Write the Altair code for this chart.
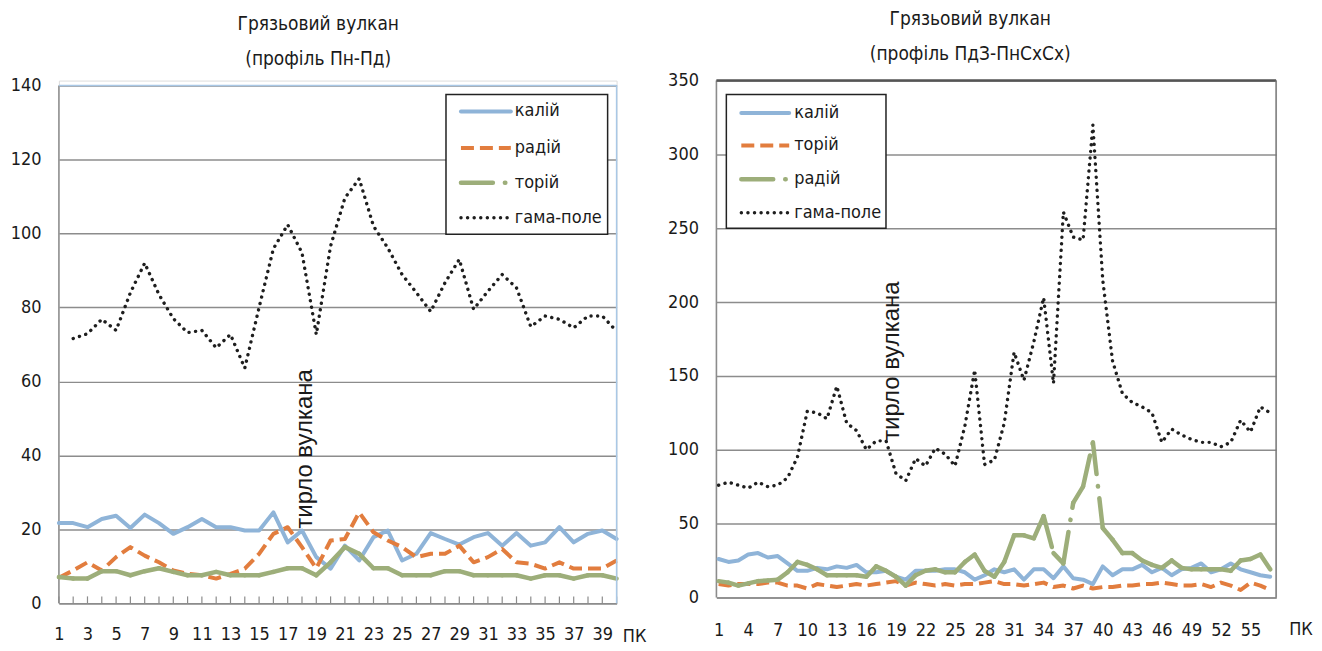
import altair as alt
import pandas as pd

# ---------------- data ----------------
pk_left = list(range(1, 41))
left_kaliy = [21.7, 21.7, 20.6, 22.8, 23.7, 20.4, 24.0, 21.7, 18.8, 20.6,
              22.8, 20.6, 20.6, 19.7, 19.7, 24.6, 16.5, 19.7, 12.5, 9.4,
              15.6, 11.6, 17.9, 19.7, 11.6, 13.4, 19.0, 17.4, 15.9, 17.9,
              19.0, 15.6, 19.0, 15.6, 16.5, 20.6, 16.5, 18.8, 19.7, 17.4]
left_radiy = [6.9, 8.9, 11.1, 8.9, 12.5, 15.2, 12.9, 11.1, 8.9, 8.0,
              7.6, 6.7, 8.0, 9.4, 13.4, 18.8, 20.6, 15.2, 9.5, 17.0,
              17.4, 24.6, 19.2, 17.0, 15.2, 12.5, 13.4, 13.4, 15.6, 11.1,
              12.5, 14.7, 11.1, 10.7, 9.4, 11.1, 9.4, 9.4, 9.4, 11.6]
left_toriy = [7.1, 6.7, 6.7, 8.7, 8.7, 7.6, 8.7, 9.5, 8.5, 7.6,
              7.6, 8.5, 7.6, 7.6, 7.6, 8.5, 9.5, 9.5, 7.6, 11.1,
              15.2, 13.4, 9.5, 9.5, 7.6, 7.6, 7.6, 8.7, 8.7, 7.6,
              7.6, 7.6, 7.6, 6.7, 7.6, 7.6, 6.7, 7.6, 7.6, 6.7]
left_gama = [None, 71.6, 72.9, 76.8, 73.8, 84.0, 92.0, 83.5, 77.0, 73.2,
             73.8, 69.1, 72.7, 63.6, 80.0, 95.9, 102.4, 94.8, 72.7, 96.6,
             109.6, 114.8, 102.0, 96.1, 88.9, 84.0, 78.9, 86.7, 93.0, 79.5,
             84.4, 88.9, 85.3, 74.8, 77.7, 76.8, 74.5, 77.7, 77.7, 73.6]

pk_right = list(range(1, 58))
right_kaliy = [26, 24, 25, 29, 30, 27, 28, 23, 18, 18,
               20, 19, 21, 20, 22, 17, 17, 18, 14, 12,
               18, 18, 18, 19, 19, 17, 12, 15, 19, 17,
               19, 12, 19, 19, 13, 21, 13, 12, 9, 21,
               15, 19, 19, 22, 17, 20, 15, 19, 20, 23,
               17, 19, 23, 19, 17, 15, 14]
right_toriy = [9, 8, 9, 9, 9, 10, 10, 8, 8, 6,
               9, 8, 7, 8, 9, 8, 9, 10, 11, 8,
               10, 9, 8, 9, 8, 9, 9, 10, 11, 9,
               9, 8, 9, 10, 7, 8, 6, 8, 6, 7,
               7, 8, 8, 9, 9, 10, 9, 8, 8, 9,
               7, 10, 8, 5, 10, 8, 5]
right_radiy = [11, 10, 8, 9.5, 11, 11.5, 12, 17, 24, 22,
               19, 15, 15, 15, 15, 14, 21, 18, 14, 8,
               15, 18, 19, 17, 17, 24, 29, 18, 14, 24,
               42, 42, 40, 55, 30, 23, 64, 75, 105, 47,
               39, 30, 30, 25, 22, 20, 25, 20, 19, 19,
               19, 19, 18, 25, 26, 29, 19]
right_gama = [76, 78, 76, 74, 78, 75, 76, 81, 95, 126,
              125, 121, 143, 118, 113, 100, 106, 106, 84, 79,
              94, 89, 101, 97, 89, 116, 154, 90, 93, 118,
              166, 147, 173, 203, 145, 261, 244, 242, 320, 215,
              160, 138, 132, 129, 125, 105, 114, 110, 107, 105,
              105, 102, 105, 120, 112, 129, 125]

left_x_labels = list(range(1, 40, 2))
right_x_labels = list(range(1, 56, 3))
left_y_labels = list(range(0, 141, 20))
right_y_labels = list(range(0, 351, 50))

title_main = "Грязьовий вулкан"
title_left = "(профіль Пн-Пд)"
title_right = "(профіль ПдЗ-ПнСхСх)"
vent_label = "тирло вулкана"
axis_unit = "ПК"

left_names = ["калій", "радій", "торій", "гама-поле"]
right_names = ["калій", "торій", "радій", "гама-поле"]

# ---------------- style ----------------
FONT = "Liberation Sans Narrow, DejaVu Sans Condensed, Arial Narrow, sans-serif"
FONT_ROT = "Liberation Sans, Arial, sans-serif"
BLUE = "#8fb4d8"
ORANGE = "#e27d3e"
GREEN = "#9dae7a"
DARK = "#1e1e1e"
GRID = "#8c8c8c"
TXT = "#1a1a1a"

STYLES = {
    "blue": dict(color=BLUE, strokeWidth=4, strokeCap="round", strokeJoin="round"),
    "orange": dict(color=ORANGE, strokeWidth=4, strokeDash=[13, 6], strokeCap="butt", strokeJoin="round"),
    "green": dict(color=GREEN, strokeWidth=4.5, strokeDash=[32, 12, 0.5, 12], strokeCap="round", strokeJoin="round"),
    "dots": dict(color=DARK, strokeWidth=3.4, strokeDash=[0.1, 6.5], strokeCap="round", strokeJoin="round"),
}


def series_df(xs, vals):
    df = pd.DataFrame({"x": xs, "y": vals})
    return df.dropna()


def segment_df(xs, vals):
    rows = []
    for k in range(len(xs) - 1):
        if vals[k] is None or vals[k + 1] is None:
            continue
        rows.append({"x": xs[k], "y": vals[k], "seg": k})
        rows.append({"x": xs[k + 1], "y": vals[k + 1], "seg": k})
    return pd.DataFrame(rows)


def panel(xs, series, names, styles, W, H, top_pad, xdom, ydom, xlabels, ylabels,
          title_lines, title_offset, title_dx, inner_ticks, border,
          legend_box, legend_rows, legend_line, legend_text_x,
          vent_xy, unit_xy, x_label_pad):
    ymax = ydom[1] * H / (H - top_pad)
    x_axis = alt.Axis(values=xlabels, grid=False, ticks=False, domainColor=GRID,
                      domainWidth=1.5, labelFont=FONT, labelFontSize=18,
                      labelColor=TXT, labelPadding=x_label_pad, title=None,
                      labelFlush=False, labelOverlap=False)
    y_axis = alt.Axis(values=ylabels, grid=True, gridColor=GRID, gridWidth=1.5,
                      ticks=False, domain=False,
                      labelFont=FONT, labelFontSize=18, labelColor=TXT,
                      labelPadding=18, title=None)
    x_enc = alt.X("x:Q", scale=alt.Scale(domain=xdom, nice=False, zero=False), axis=x_axis)
    y_enc = alt.Y("y:Q", scale=alt.Scale(domain=[ydom[0], ymax], nice=False), axis=y_axis)

    one = pd.DataFrame({"a": [0]})
    layers = []

    # left axis line (from top of plot frame to bottom)
    layers.append(alt.Chart(one).mark_rule(color=GRID, strokeWidth=1.5).encode(
        x=alt.value(0), y=alt.value(top_pad), y2=alt.value(H)))

    for vals, sty in zip(series, styles):
        st = STYLES[sty]
        if sty == "green":
            layers.append(
                alt.Chart(segment_df(xs, vals)).mark_line(**st).encode(
                    x=x_enc, y=y_enc, detail="seg:N"))
        else:
            layers.append(
                alt.Chart(series_df(xs, vals)).mark_line(**st).encode(x=x_enc, y=y_enc))

    if inner_ticks:
        layers.append(
            alt.Chart(pd.DataFrame({"x": xs})).mark_rule(color=GRID, strokeWidth=1.2).encode(
                x=x_enc, y=alt.value(H), y2=alt.value(H - 7)))

    # plot border (top + right)
    bcol, bw_top, bw_right, bcol_r = border
    layers.append(alt.Chart(one).mark_rule(color=bcol, strokeWidth=bw_top).encode(
        x=alt.value(0), x2=alt.value(W), y=alt.value(top_pad)))
    layers.append(alt.Chart(one).mark_rule(color=bcol_r, strokeWidth=bw_right).encode(
        x=alt.value(W), y=alt.value(top_pad), y2=alt.value(H)))

    # vent annotation
    vx, vy = vent_xy
    layers.append(
        alt.Chart(pd.DataFrame({"x": [vx], "y": [vy], "t": [vent_label]})).mark_text(
            angle=270, align="left", baseline="middle", fontSize=24, font=FONT_ROT,
            color=TXT).encode(x=x_enc, y=y_enc, text="t:N"))

    # legend
    bx0, bx1, by0, by1 = legend_box
    layers.append(alt.Chart(one).mark_rect(fill="white", stroke="#222222", strokeWidth=1.5).encode(
        x=alt.value(bx0), x2=alt.value(bx1), y=alt.value(by0 + top_pad), y2=alt.value(by1 + top_pad)))
    lx0, lx1 = legend_line
    for name, sty, ly in zip(names, styles, legend_rows):
        st = dict(STYLES[sty])
        st.pop("strokeJoin", None)
        layers.append(alt.Chart(one).mark_rule(**st).encode(
            x=alt.value(lx0), x2=alt.value(lx1), y=alt.value(ly + top_pad)))
        layers.append(alt.Chart(pd.DataFrame({"t": [name]})).mark_text(
            align="left", baseline="middle", fontSize=18, font=FONT, color=TXT).encode(
            x=alt.value(legend_text_x), y=alt.value(ly + top_pad), text="t:N"))

    # unit label
    ux, uy = unit_xy
    layers.append(alt.Chart(pd.DataFrame({"t": [axis_unit]})).mark_text(
        align="center", baseline="middle", fontSize=18, font=FONT, color=TXT).encode(
        x=alt.value(ux), y=alt.value(uy), text="t:N"))

    return alt.layer(*layers).properties(
        width=W, height=H,
        title=alt.TitleParams(text=title_lines, fontSize=19, font=FONT, fontWeight="normal",
                              lineHeight=35, anchor="middle", frame="bounds",
                              offset=title_offset, dx=title_dx, color=TXT))


WL, HL = 559, 524
WR, HR = 561, 518

left = panel(pk_left, [left_kaliy, left_radiy, left_toriy, left_gama], left_names,
             ["blue", "orange", "green", "dots"], WL, HL, 5, [1, 40], [0, 140],
             left_x_labels, left_y_labels, [title_main, title_left], 8, -10, True,
             ("#a9c8e6", 1.5, 1.5, "#a9c8e6"),
             (388, 550, 9, 149), [26, 62.5, 97.5, 132.5], (403, 453), 457,
             (18.2, 20.2), (WL + 18, HL + 34), 22)

right = panel(pk_right, [right_kaliy, right_toriy, right_radiy, right_gama], right_names,
              ["blue", "orange", "green", "dots"], WR, HR, 0, [0.77, 57.6], [0, 350],
              right_x_labels, right_y_labels, [title_main, title_right], 8, -20, False,
              ("#555555", 2.5, 1.5, "#777777"),
              (10, 170, 14, 148), [32.5, 65, 99, 132.5], (25, 73), 78,
              (18.6, 106), (WR + 25, HR + 33), 24)

chart = alt.hconcat(left, right, spacing=19).configure_view(stroke=None).configure(
    padding={"left": 1, "top": 0, "right": 0, "bottom": 0}, background="white")

chart.save("out.html", embed_options={"renderer": "svg", "actions": False})
